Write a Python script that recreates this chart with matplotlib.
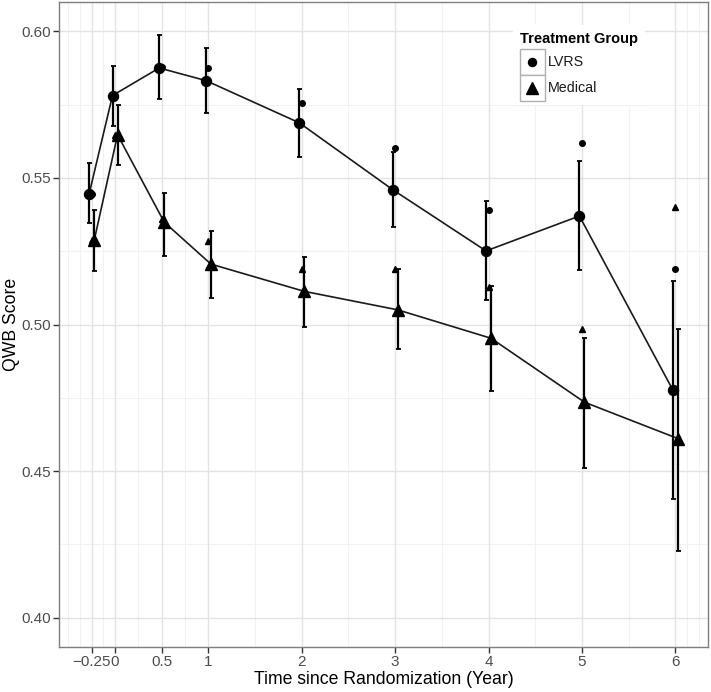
import matplotlib
matplotlib.use("Agg")
import matplotlib.pyplot as plt
from matplotlib.lines import Line2D
from matplotlib.patches import Rectangle

plt.rcParams["font.family"] = ["Liberation Sans", "DejaVu Sans"]

# time points (years since randomization)
times = [-0.25, 0, 0.5, 1, 2, 3, 4, 5, 6]

# LVRS: model estimate, interval, observed mean
lvrs_mean = [0.5446, 0.5781, 0.5875, 0.5832, 0.5688, 0.5460, 0.5251, 0.5370, 0.4777]
lvrs_lo = [0.5346, 0.5678, 0.5769, 0.5720, 0.5573, 0.5332, 0.5082, 0.5187, 0.4404]
lvrs_hi = [0.5551, 0.5883, 0.5987, 0.5944, 0.5803, 0.5588, 0.5420, 0.5556, 0.5147]
lvrs_obs = [0.5446, 0.5781, 0.5880, 0.5874, 0.5757, 0.5601, 0.5392, 0.5618, 0.5189]

# Medical
med_mean = [0.5287, 0.5647, 0.5349, 0.5206, 0.5113, 0.5050, 0.4953, 0.4735, 0.4611]
med_lo = [0.5184, 0.5543, 0.5233, 0.5090, 0.4991, 0.4917, 0.4772, 0.4511, 0.4227]
med_hi = [0.5389, 0.5747, 0.5449, 0.5318, 0.5230, 0.5189, 0.5130, 0.4955, 0.4985]
med_obs = [0.5287, 0.5647, 0.5360, 0.5284, 0.5189, 0.5190, 0.5127, 0.4985, 0.5400]

x_breaks = [-0.25, 0, 0.5, 1, 2, 3, 4, 5, 6]
x_labels = ["\u22120.25", "0", "0.5", "1", "2", "3", "4", "5", "6"]
x_minor = [-0.5, -0.375, -0.125, 0.25, 0.75, 1.5, 2.5, 3.5, 4.5, 5.5, 6.125, 6.25]
y_breaks = [0.40, 0.45, 0.50, 0.55, 0.60]
y_minor = [0.425, 0.475, 0.525, 0.575]

W, H = 711, 692
dodge = 0.027

fig = plt.figure(figsize=(W / 100, H / 100), dpi=100)
ax = fig.add_axes([59 / W, 1 - 647 / H, (708 - 59) / W, (647 - 2) / H])

for x in x_minor:
    ax.axvline(x, color="#F2F2F2", lw=0.8, zorder=0)
for y in y_minor:
    ax.axhline(y, color="#F2F2F2", lw=0.8, zorder=0)
for x in x_breaks:
    ax.axvline(x, color="#E3E3E3", lw=1.0, zorder=0)
for y in y_breaks:
    ax.axhline(y, color="#E3E3E3", lw=1.0, zorder=0)

groups = [
    (lvrs_mean, lvrs_lo, lvrs_hi, lvrs_obs, -dodge, "o", 7.2, 4.0),
    (med_mean, med_lo, med_hi, med_obs, dodge, "^", 8.6, 5.0),
]
for mean, lo, hi, obs, off, mk, ms, ms_small in groups:
    xs = [t + off for t in times]
    ax.plot(xs, mean, color="#1a1a1a", lw=1.2, zorder=2)
    yerr = [[m - l for m, l in zip(mean, lo)], [h - m for m, h in zip(mean, hi)]]
    ax.errorbar(xs, mean, yerr=yerr, fmt="none", ecolor="black", elinewidth=1.6,
                capsize=1.8, capthick=1.3, zorder=3)
    ax.plot(xs, mean, linestyle="none", marker=mk, ms=ms, color="black", zorder=4)
    ax.plot(times, obs, linestyle="none", marker=mk, ms=ms_small, color="black", zorder=4)

ax.set_xlim(-0.60, 6.35)
ax.set_ylim(0.39, 0.61)
ax.set_xticks(x_breaks)
ax.set_xticklabels(x_labels)
ax.set_yticks(y_breaks)
ax.set_yticklabels([f"{v:.2f}" for v in y_breaks])
ax.tick_params(axis="both", length=4, width=1.0, color="#333333", labelcolor="#4D4D4D",
               labelsize=11, pad=2)
for s in ax.spines.values():
    s.set_color("#7F7F7F")
    s.set_linewidth(1.0)

ax.set_xlabel("Time since Randomization (Year)", fontsize=12.7, color="black", labelpad=1)
ax.set_ylabel("QWB Score", fontsize=12.7, color="black", va="center")
ax.yaxis.set_label_coords((12 - 59) / (708 - 59), 0.5)


# legend, drawn by hand in figure pixels
def fx(x):
    return x / W


def fy(y):
    return 1 - y / H


tf = fig.transFigure
fig.patches.append(Rectangle((fx(513), fy(105)), fx(645) - fx(513), fy(25) - fy(105),
                             transform=tf, facecolor="white", edgecolor="none", zorder=5))
fig.text(fx(520.5), fy(38.5), "Treatment Group", fontsize=10.5, fontweight="bold",
         ha="left", va="center", color="black", zorder=6)
keys = [("LVRS", "o", 5.8, 48.5, 75), ("Medical", "^", 8.0, 75, 101)]
for label, mk, ms, y0, y1 in keys:
    fig.patches.append(Rectangle((fx(519.5), fy(y1)), fx(545) - fx(519.5), fy(y0) - fy(y1),
                                 transform=tf, facecolor="white", edgecolor="#B0B0B0",
                                 lw=1.0, zorder=6))
    yc = (y0 + y1) / 2
    fig.lines.append(Line2D([fx(532.3)], [fy(yc)], marker=mk, ms=ms, color="black",
                            linestyle="none", transform=tf, zorder=7))
    fig.text(fx(548), fy(yc), label, fontsize=10.3, ha="left", va="center",
             color="#1a1a1a", zorder=7)

fig.savefig("out.png", dpi=100)
